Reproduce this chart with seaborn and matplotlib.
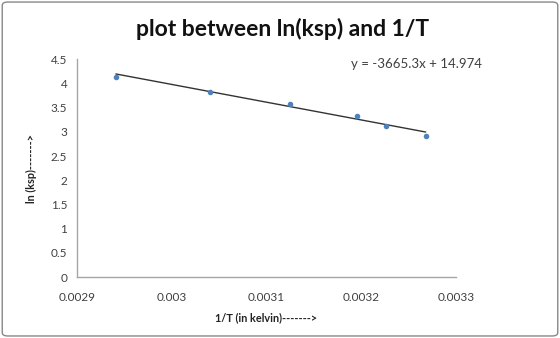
import numpy as np
import pandas as pd
import matplotlib.pyplot as plt
import seaborn as sns
from matplotlib.patches import FancyBboxPatch

# data
inv_T = [0.002941, 0.003040, 0.003125, 0.003195, 0.003226, 0.003268]
ln_ksp = [4.14, 3.83, 3.57, 3.33, 3.11, 2.92]
slope = -3665.3
intercept = 14.974

df = pd.DataFrame({"x": inv_T, "y": ln_ksp})
trend = pd.DataFrame({"x": [min(inv_T), max(inv_T)]})
trend["y"] = slope * trend["x"] + intercept

sns.set_style("white")
plt.rcParams['font.family'] = ['Lato', 'DejaVu Sans']

fig = plt.figure(figsize=(5.6, 3.38), dpi=100)
ax = fig.add_axes([0.1375, 0.180, 0.6768, 0.645])

sns.lineplot(data=trend, x="x", y="y", ax=ax, color="#333333", linewidth=1)
sns.scatterplot(data=df, x="x", y="y", ax=ax, color="#4f81bd", s=16,
                edgecolor="#4f81bd", linewidth=0, zorder=3)

ax.set_xlim(0.0029, 0.0033)
ax.set_ylim(0, 4.5)
ax.set_xticks([0.0029, 0.003, 0.0031, 0.0032, 0.0033])
ax.set_xticklabels(["0.0029", "0.003", "0.0031", "0.0032", "0.0033"])
ax.set_yticks(np.arange(0, 4.6, 0.5))
ax.set_yticklabels(["0", "0.5", "1", "1.5", "2", "2.5", "3", "3.5", "4", "4.5"])

for s in ["top", "right"]:
    ax.spines[s].set_visible(False)
for s in ["left", "bottom"]:
    ax.spines[s].set_color("#a6a6a6")
    ax.spines[s].set_linewidth(1)
ax.tick_params(axis="both", direction="out", length=4, width=1, color="#a6a6a6",
               labelsize=8.5, labelcolor="#404040", pad=3)
ax.tick_params(axis="x", pad=7)

ax.set_xlabel("1/T (in kelvin)------->", fontsize=7.8, fontweight="bold", color="#222222")
ax.set_ylabel("ln (ksp)------->", fontsize=7.8, fontweight="bold", color="#222222")
ax.xaxis.set_label_coords(0.5, -0.16)
ax.yaxis.set_label_coords(-0.105, 0.5)

fig.text(0.505, 0.915, "plot between ln(ksp) and 1/T", ha="center", va="center",
         fontsize=16.5, fontweight="bold", color="#111111")
ax.text(0.003258, 4.4, "y = -3665.3x + 14.974", ha="center", va="center",
        fontsize=9.5, color="#404040")

border = FancyBboxPatch((0.004, 0.006), 0.992, 0.988, boxstyle="round,pad=0,rounding_size=0.01",
                        transform=fig.transFigure, fill=False, edgecolor="#888888", linewidth=1)
fig.patches.append(border)

fig.savefig("out.png", dpi=100)
